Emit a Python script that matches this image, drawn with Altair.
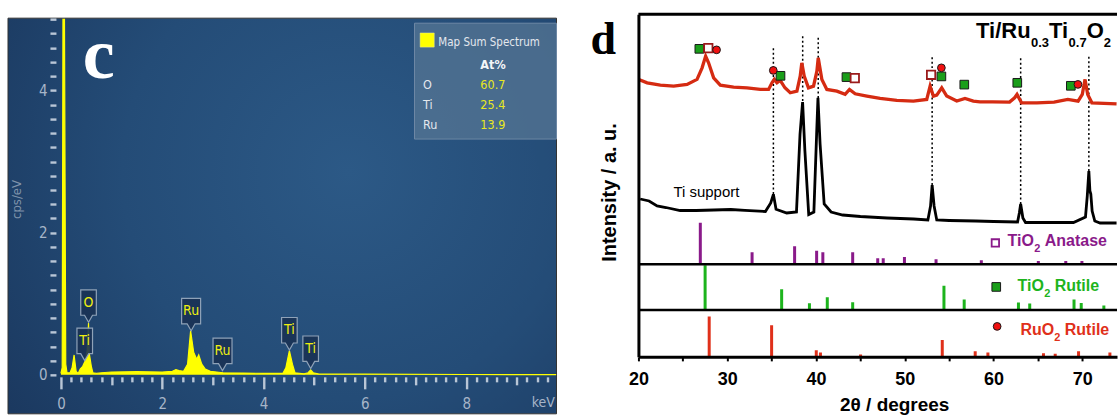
import altair as alt
import pandas as pd

# ================= Panel c : EDS map sum spectrum =================
eds_energy = [0.0, 0.025, 0.04, 0.07, 0.095, 0.12, 0.18, 0.22, 0.26, 0.30, 0.34, 0.38, 0.43,
              0.48, 0.52, 0.545, 0.56, 0.60, 0.63, 0.70, 0.80, 1.0, 1.5, 2.0, 2.2, 2.27, 2.33,
              2.42, 2.50, 2.56, 2.62, 2.68, 2.72, 2.78, 2.85, 2.95, 3.2, 3.6, 4.0, 4.38, 4.44,
              4.51, 4.57, 4.62, 4.8, 4.88, 4.93, 4.98, 5.1, 6.0, 8.0, 9.78]
eds_counts = [0.02, 0.1, 5.0, 5.0, 0.15, 0.03, 0.03, 0.1, 0.28, 0.05, 0.02, 0.08, 0.12,
              0.2, 0.35, 0.73, 0.3, 0.12, 0.03, 0.02, 0.03, 0.04, 0.045, 0.04, 0.05, 0.075, 0.06,
              0.05, 0.15, 0.62, 0.32, 0.22, 0.28, 0.15, 0.08, 0.05, 0.03, 0.025, 0.02, 0.02, 0.1,
              0.34, 0.15, 0.03, 0.015, 0.03, 0.07, 0.03, 0.01, 0.01, 0.005, 0.003]

peak_labels = ["O", "Ti", "Ru", "Ru", "Ti", "Ti"]
peak_energy = [0.545, 0.47, 2.57, 3.19, 4.51, 4.93]
peak_tip = [0.74, 0.2, 0.62, 0.06, 0.35, 0.09]

legend_elements = ["O", "Ti", "Ru"]
legend_atpct = ["60.7", "25.4", "13.9"]

# ================= Panel d : XRD =================
red_2theta = [20.04, 20.98, 22.47, 23.97, 25.48, 26.6, 27.17, 27.57, 27.9, 28.47, 29.22, 30.72,
              32.23, 33.72, 34.66, 35.04, 35.3, 35.6, 35.97, 36.5, 37.1, 37.85, 38.22, 38.4,
              38.67, 39.15, 39.72, 40.1, 40.25, 40.66, 41.22, 42.35, 43.28, 43.77, 44.41, 45.73,
              47.22, 49.1, 50.97, 52.47, 52.85, 53.22, 53.6, 54.16, 54.72, 55.85, 56.78, 57.72,
              58.47, 59.87, 61.8, 62.37, 62.64, 63.15, 64.88, 66.81, 68.36, 69.52, 69.99, 70.3,
              70.6, 71.07, 73.85]
red_int = [277.7, 274.3, 272, 271, 272.7, 277.7, 289.3, 301, 294.3, 279.3, 272, 270,
           269.3, 267.7, 267.7, 274.3, 277.7, 274.3, 276.7, 269.3, 264.3, 266, 281, 294.3,
           281, 269.3, 271, 286, 299.3, 277.7, 267.7, 266, 262.7, 267.7, 263.3, 261,
           258.7, 256.7, 256, 257.7, 271, 261, 262, 269.3, 261, 256, 258.7, 256,
           255.3, 255.3, 255, 259.3, 262.7, 254.3, 254.3, 255, 257.7, 256, 262.7, 277.7,
           262.7, 254.3, 253.3]

black_2theta = [20.2, 21.2, 22.1, 23.1, 24.7, 26.5, 28.5, 30.4, 32.0, 34.3, 34.9, 35.2, 35.5,
                36.7, 37.8, 38.2, 38.49, 38.75, 39.18, 39.76, 40.07, 40.22, 40.46, 40.92, 41.7,
                43.0, 45.0, 48.0, 51.0, 52.6, 52.9, 53.08, 53.3, 53.6, 55.0, 58.0, 60.0, 62.7,
                62.9, 63.05, 63.3, 63.6, 66.0, 69.0, 70.35, 70.55, 70.73, 70.85, 70.95, 71.1,
                71.4, 72.0, 73.85]
black_int = [158, 156, 151, 149.5, 146.5, 146.5, 147, 147.5, 146.7, 145.5, 154, 162.7, 147.7,
             144, 145, 223, 255, 206, 142.5, 145, 223, 259.3, 213, 153, 145,
             142, 140.5, 139, 138, 137, 151, 172, 151, 137, 136.5, 136, 135.5, 135,
             144, 153, 139, 134.5, 134.5, 134.5, 140, 161, 186, 166, 163, 146,
             136, 134, 134]

ref_2theta = [35.2, 38.5, 40.25, 53.08, 63.05, 70.73]
ref_top = [309, 323, 320, 301, 299, 301]
ref_bottom = [163, 256, 259, 172, 153, 186]

anatase_2theta = [26.97, 32.8, 37.59, 40.07, 40.77, 44.13, 46.95, 47.57, 49.96, 53.52, 58.62,
                  65.04, 68.13, 69.95]
anatase_rel = [41.6, 12, 18, 13.6, 12, 12, 6, 6, 7.3, 5, 4, 3.3, 3.3, 3.3]
rutile_2theta = [27.51, 36.13, 39.26, 41.27, 44.13, 54.41, 56.69, 62.8, 64.07, 69.06, 69.87, 72.42]
rutile_rel = [44.7, 20.7, 6.7, 12.7, 7.7, 24.3, 10.3, 7.3, 6.3, 10.3, 7, 4.3]
ruo2_2theta = [27.97, 35.0, 40.03, 40.5, 45.02, 54.22, 57.93, 59.36, 65.62, 66.94, 69.57, 73.1]
ruo2_rel = [40.4, 31.7, 6.7, 4.3, 2.3, 17, 5.7, 4.3, 3.7, 3, 5.7, 4.3]
phase_names = ["TiO2 Anatase", "TiO2 Rutile", "RuO2 Rutile"]
phase_offset = [92.7, 47, 0]

rutile_mark_x = [26.86, 36.0, 43.43, 54.12, 56.7, 62.67, 68.7]
rutile_mark_y = [308.3, 281.3, 280, 280.7, 272.5, 274.3, 271.3]
anatase_mark_x = [27.87, 44.37, 52.96]
anatase_mark_y = [309, 279, 282.3]
ruo2_mark_x = [28.8, 35.19, 54.12, 69.5]
ruo2_mark_y = [307.3, 286.7, 289.3, 272.7]

# ---------------- styles ----------------
NARROW = "Liberation Sans Narrow, DejaVu Sans Condensed, Roboto, sans-serif"
ARIAL = "Liberation Sans, Arial, sans-serif"
AXIS_BLUE = "#a7b5c8"
TICK_BLUE = "#b9c6d6"
PURPLE, GREEN, RED = "#8a1a8a", "#1db41d", "#e0301a"

# =========================================================
# Panel c
# =========================================================
xs1 = alt.Scale(domain=[-1.045, 9.783], nice=False, zero=False)
ys1 = alt.Scale(domain=[-0.548, 5.074], nice=False, zero=False)

bg_grad = {"gradient": "radial", "x1": 0.62, "y1": 0.42, "r1": 0.0,
           "x2": 0.62, "y2": 0.42, "r2": 0.75,
           "stops": [{"offset": 0, "color": "#2c5986"},
                     {"offset": 0.55, "color": "#244c77"},
                     {"offset": 1, "color": "#1b3960"}]}
one = alt.Data(values=[{}])

x_vals = [round(0.2 * i, 1) for i in range(0, 49)]
y_vals = [round(0.2 * i, 1) for i in range(0, 26)]
even_test = "abs(datum.value/2 - round(datum.value/2)) < 0.01"
int_test = "abs(datum.value - round(datum.value)) < 0.01"

xaxis1 = alt.Axis(values=x_vals, grid=False, domain=False, offset=-37, zindex=2,
                  labelExpr=f"{even_test} ? format(datum.value, 'd') : ''",
                  tickSize=alt.ExprRef(expr=f"({even_test} ? 12 : ({int_test} ? 8 : 5))"),
                  tickWidth=2.4, tickColor=TICK_BLUE, labelColor=AXIS_BLUE, labelFont=NARROW,
                  labelFontSize=15, labelPadding=8, labelFlush=False, title=None)
yaxis1 = alt.Axis(values=y_vals, grid=False, domain=False, offset=-48, zindex=2,
                  labelExpr=f"{even_test} ? format(datum.value, 'd') : ''",
                  tickSize=6,
                  tickWidth=2.4, tickColor=TICK_BLUE, labelColor=AXIS_BLUE, labelFont=NARROW,
                  labelFontSize=15, labelPadding=3, labelFlush=False,
                  title="cps/eV", titleColor="#7f93ab", titleFont=NARROW, titleFontSize=13,
                  titleFontWeight="normal", titleX=-39, titleY=185, titleAngle=270,
                  titleBaseline="middle", titleAlign="center")


def X1(f="x"):
    return alt.X(f"{f}:Q", scale=xs1, axis=xaxis1)


def Y1(f="y"):
    return alt.Y(f"{f}:Q", scale=ys1, axis=yaxis1)


bg = alt.Chart(one).mark_rect(fill=bg_grad, stroke="#333333", strokeWidth=1).encode(
    x=alt.value(0), x2=alt.value("width"), y=alt.value(4), y2=alt.value("height"))

eds_df = pd.DataFrame({"x": eds_energy, "y": eds_counts})
spec = alt.Chart(eds_df).mark_area(
    color="#ffff00", opacity=1, clip=True,
    line={"color": "#ffff00", "strokeWidth": 1.2}).encode(x=X1(), y=Y1())

path_n = "M0,0 L-0.4,-0.7 L-0.78,-0.7 L-0.78,-3.25 L0.78,-3.25 L0.78,-0.7 L0.4,-0.7 Z"
path_w = "M0,0 L-0.4,-0.7 L-0.95,-0.7 L-0.95,-3.25 L0.95,-3.25 L0.95,-0.7 L0.4,-0.7 Z"
peaks_df = pd.DataFrame({"t": peak_labels, "x": peak_energy, "y": peak_tip})
callout = alt.Chart(peaks_df).mark_point(
    filled=True, size=400, fill="#1a3254", fillOpacity=0.9, stroke="#8fa2b8",
    strokeWidth=1.2, opacity=1).encode(
    x=X1(), y=Y1(),
    shape=alt.Shape("t:N", scale=alt.Scale(domain=["O", "Ti", "Ru"],
                                           range=[path_n, path_n, path_w]), legend=None))
callout_txt = alt.Chart(peaks_df).mark_text(
    dy=-19.5, baseline="middle", align="center", color="#eeee10", font=NARROW,
    fontSize=14).encode(x=X1(), y=Y1(), text="t:N")

# legend box (upper right)
leg_box = alt.Chart(pd.DataFrame({"x": [6.98], "x2": [9.783], "y": [4.947], "y2": [3.317]})).mark_rect(
    fill="#557594", fillOpacity=0.75, stroke="#6d88a5", strokeWidth=1).encode(
    x=X1(), x2="x2:Q", y=Y1(), y2="y2:Q")
leg_sw = alt.Chart(pd.DataFrame({"x": [7.23], "y": [4.71]})).mark_square(
    size=200, color="#ffff00", opacity=1, stroke="#e8e8a0", strokeWidth=0.5).encode(x=X1(), y=Y1())
leg_title = alt.Chart(pd.DataFrame({"x": [7.45], "y": [4.63], "t": ["Map Sum Spectrum"]})).mark_text(
    align="left", baseline="alphabetic", color="#e4e8ee", font=NARROW, fontSize=11.5).encode(
    x=X1(), y=Y1(), text="t:N")
leg_head = alt.Chart(pd.DataFrame({"x": [8.28], "y": [4.30], "t": ["At%"]})).mark_text(
    align="left", baseline="alphabetic", color="#f4f6f8", font=NARROW, fontSize=12.5,
    fontWeight="bold").encode(x=X1(), y=Y1(), text="t:N")
leg_el = alt.Chart(pd.DataFrame({"x": [7.15] * 3, "y": [4.015, 3.734, 3.462],
                                 "t": legend_elements})).mark_text(
    align="left", baseline="alphabetic", color="#e4e8ee", font=NARROW, fontSize=12.5).encode(
    x=X1(), y=Y1(), text="t:N")
leg_val = alt.Chart(pd.DataFrame({"x": [8.28] * 3, "y": [4.015, 3.734, 3.462],
                                  "t": legend_atpct})).mark_text(
    align="left", baseline="alphabetic", color="#e8e820", font=NARROW, fontSize=12.5).encode(
    x=X1(), y=Y1(), text="t:N")
kev_txt = alt.Chart(pd.DataFrame({"x": [9.75], "y": [-0.39], "t": ["keV"]})).mark_text(
    align="right", baseline="middle", color=AXIS_BLUE, font=NARROW, fontSize=14).encode(
    x=X1(), y=Y1(), text="t:N")
c_txt = alt.Chart(pd.DataFrame({"x": [0.43], "y": [4.18], "t": ["c"]})).mark_text(
    align="left", baseline="alphabetic", color="white", font="Liberation Serif, DejaVu Serif, serif",
    fontWeight="bold", fontSize=72).encode(x=X1(), y=Y1(), text="t:N")

panel_c = alt.layer(bg, spec, callout, callout_txt, leg_box, leg_sw, leg_title, leg_head,
                    leg_el, leg_val, kev_txt, c_txt).properties(width=549, height=400)

# =========================================================
# Panel d
# =========================================================
xs2 = alt.Scale(domain=[20, 73.9], nice=False, zero=False)
ys2 = alt.Scale(domain=[0, 343], nice=False, zero=False)

xaxis2 = alt.Axis(values=list(range(20, 75, 5)), grid=False, domainWidth=3, domainColor="black",
                  labelExpr="datum.value % 10 == 0 ? datum.value : ''", zindex=2,
                  tickSize=4, tickWidth=2, tickColor="black", labelColor="black", labelFont=ARIAL,
                  labelFontWeight="bold", labelFontSize=18, labelPadding=10, labelFlush=False,
                  title="2θ / degrees", titleFont=ARIAL, titleFontWeight="bold", titleFontSize=19,
                  titleColor="black", titleX=256, titleY=54, titleBaseline="alphabetic")
yaxis2 = alt.Axis(labels=False, ticks=False, grid=False, domainWidth=3, domainColor="black",
                  title="Intensity / a. u.", titleFont=ARIAL, titleFontWeight="bold", zindex=2,
                  titleFontSize=20, titleColor="black", titlePadding=19, titleY=178)


def X2(f="x"):
    return alt.X(f"{f}:Q", scale=xs2, axis=xaxis2)


def Y2(f="y"):
    return alt.Y(f"{f}:Q", scale=ys2, axis=yaxis2)


rows = []
for name, off, xs, hs in zip(phase_names, phase_offset,
                             [anatase_2theta, rutile_2theta, ruo2_2theta],
                             [anatase_rel, rutile_rel, ruo2_rel]):
    for a, h in zip(xs, hs):
        rows.append({"x": a, "y": off, "y2": off + h, "phase": name})
stick_df = pd.DataFrame(rows)

sticks = alt.Chart(stick_df).mark_rule(strokeWidth=3, clip=True).encode(
    x=X2(), y=Y2(), y2="y2:Q",
    color=alt.Color("phase:N", scale=alt.Scale(domain=phase_names, range=[PURPLE, GREEN, RED]),
                    legend=None))

sep = alt.Chart(pd.DataFrame({"y": phase_offset[:2]})).mark_rule(
    strokeWidth=2.5, color="black").encode(x=alt.value(0), x2=alt.value("width"), y=Y2())
top_border = alt.Chart(one).mark_rule(strokeWidth=3, color="black").encode(
    x=alt.value(0), x2=alt.value("width"), y=alt.value(0))

ref_df = pd.DataFrame({"x": ref_2theta, "y": ref_bottom, "y2": ref_top})
ref_lines = alt.Chart(ref_df).mark_rule(strokeDash=[2, 2.5], strokeWidth=1.5, color="black").encode(
    x=X2(), y=Y2(), y2="y2:Q")

black_line = alt.Chart(pd.DataFrame({"x": black_2theta, "y": black_int})).mark_line(
    color="black", strokeWidth=2.8, clip=True).encode(x=X2(), y=Y2())
red_line = alt.Chart(pd.DataFrame({"x": red_2theta, "y": red_int})).mark_line(
    color="#d52b12", strokeWidth=3.3, clip=True).encode(x=X2(), y=Y2())

m_rut = alt.Chart(pd.DataFrame({"x": rutile_mark_x + [60.3], "y": rutile_mark_y + [70]})).mark_point(
    shape="square", filled=True, size=75, fill="#1a9e1a", stroke="#1a1a1a", strokeWidth=1,
    opacity=1).encode(x=X2(), y=Y2())
m_ana = alt.Chart(pd.DataFrame({"x": anatase_mark_x, "y": anatase_mark_y})).mark_point(
    shape="square", filled=True, size=70, fill="white", stroke="#9b1b1b", strokeWidth=1.8,
    opacity=1).encode(x=X2(), y=Y2())
m_ana_leg = alt.Chart(pd.DataFrame({"x": [60.2], "y": [114]})).mark_point(
    shape="square", filled=True, size=55, fill="white", stroke=PURPLE, strokeWidth=1.8,
    opacity=1).encode(x=X2(), y=Y2())
m_ruo = alt.Chart(pd.DataFrame({"x": ruo2_mark_x + [60.4], "y": ruo2_mark_y + [30.5]})).mark_point(
    shape="circle", filled=True, size=60, fill="#f01010", stroke="#1a1a1a", strokeWidth=1,
    opacity=1).encode(x=X2(), y=Y2())


def seg_text(x, y, segs, color, weight="bold"):
    layers = []
    for t, dx, dy, fs in segs:
        layers.append(alt.Chart(pd.DataFrame({"x": [x], "y": [y], "t": [t]})).mark_text(
            align="left", baseline="alphabetic", dx=dx, dy=dy, fontSize=fs, font=ARIAL,
            fontWeight=weight, color=color).encode(x=X2(), y=Y2(), text="t:N"))
    return layers


title_layers = seg_text(58.03, 318.7, [("Ti/Ru", 0, 0, 22), ("0.3", 55, 9, 13), ("Ti", 73, 0, 22),
                                      ("0.7", 92.6, 9, 13), ("O", 110.7, 0, 22), ("2", 127.8, 9, 13)],
                        "black")
ana_layers = seg_text(61.58, 111, [("TiO", 0, 0, 16), ("2", 26.7, 6, 11), ("Anatase", 37.2, 0, 16)], PURPLE)
rut_layers = seg_text(62.7, 66, [("TiO", 0, 0, 16), ("2", 26.7, 6, 11), ("Rutile", 37.2, 0, 16)], GREEN)
ruo_layers = seg_text(63.04, 22, [("RuO", 0, 0, 16), ("2", 33.8, 6, 11), ("Rutile", 44.3, 0, 16)], RED)
ti_sup = seg_text(23.94, 160, [("Ti support", 0, 0, 15)], "black", weight="normal")
d_txt = alt.Chart(pd.DataFrame({"x": [14.6], "y": [302.7], "t": ["d"]})).mark_text(
    align="left", baseline="alphabetic", font="Liberation Serif, DejaVu Serif, serif",
    fontWeight="bold", fontSize=46, color="black").encode(x=X2(), y=Y2(), text="t:N")

panel_d = alt.layer(sticks, sep, top_border, ref_lines, black_line, red_line, m_rut, m_ana,
                    m_ana_leg, m_ruo, *title_layers, *ana_layers, *rut_layers, *ruo_layers,
                    *ti_sup, d_txt).properties(width=479, height=343)

chart = alt.hconcat(panel_c, panel_d, spacing=82, bounds="flush").properties(
    padding={"left": 7, "top": 12, "right": 0, "bottom": 0},
    background="white"
).configure_view(strokeWidth=0)

chart.save("out.html", embed_options={"renderer": "svg", "actions": False})
